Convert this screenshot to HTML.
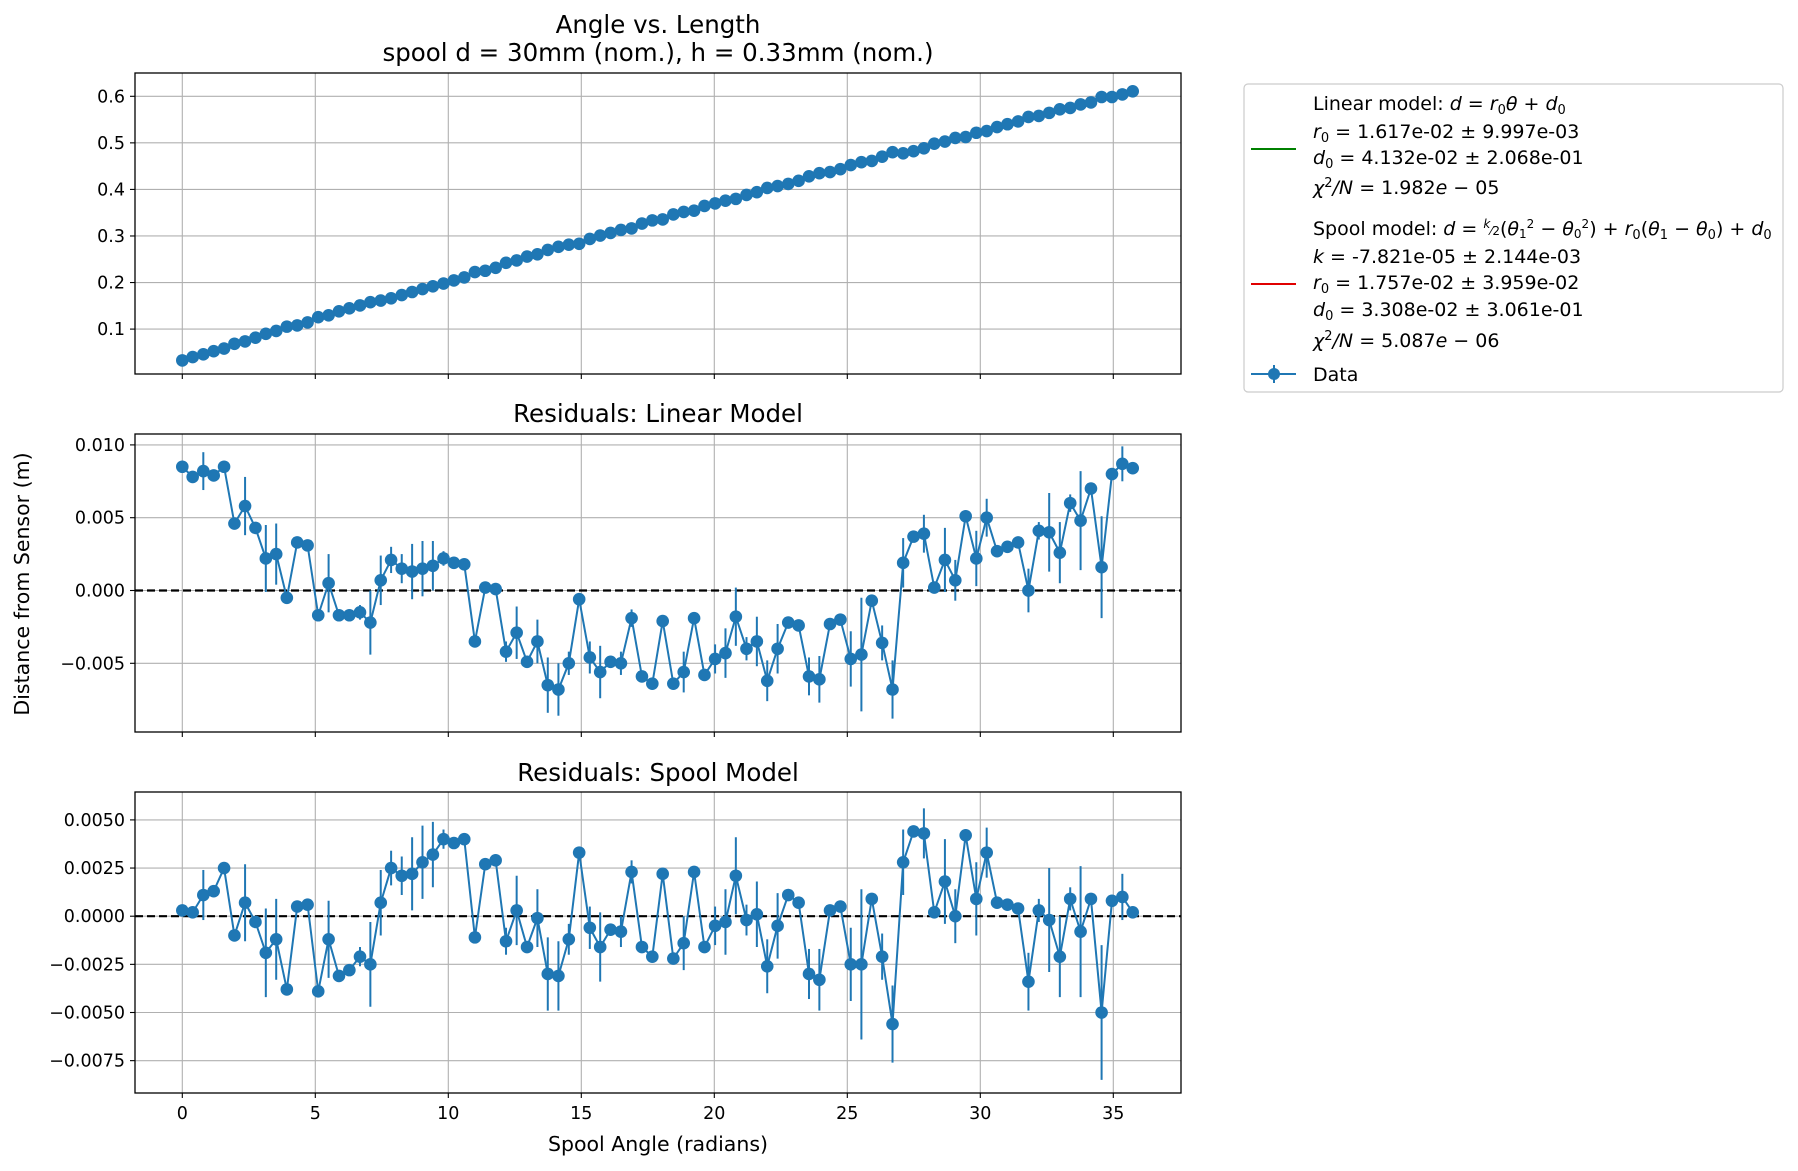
<!DOCTYPE html>
<html><head><meta charset="utf-8"><style>
html,body{margin:0;padding:0;background:#fff;}
svg{display:block;font-family:"DejaVu Sans","Liberation Sans",sans-serif;}
</style></head><body>
<svg id="fig" width="1798" height="1171" viewBox="0 0 1798 1171" xmlns="http://www.w3.org/2000/svg">
<rect width="1798" height="1171" fill="#fff"/>
<g id="g-top"></g>
<g id="g-r1"></g>
<g id="g-r2"></g>
<text x="658" y="33" font-size="24.5" text-anchor="middle">Angle vs. Length</text>
<text x="658" y="61" font-size="24.5" text-anchor="middle">spool d = 30mm (nom.), h = 0.33mm (nom.)</text>
<text x="658" y="422" font-size="24.5" text-anchor="middle">Residuals: Linear Model</text>
<text x="658" y="781" font-size="24.5" text-anchor="middle">Residuals: Spool Model</text>
<text x="658" y="1151" font-size="20.5" text-anchor="middle">Spool Angle (radians)</text>
<text x="0" y="0" font-size="20.5" text-anchor="middle" transform="translate(29,584) rotate(-90)">Distance from Sensor (m)</text>
<g font-size="19">
<rect x="1244" y="84" width="539" height="308" rx="4" fill="#fff" stroke="#ccc" stroke-width="1.2"/>
<line x1="1251" y1="149" x2="1296" y2="149" stroke="#008000" stroke-width="2"/>
<g>
<text x="1313" y="110">Linear model: <tspan font-style="italic">d</tspan> = <tspan font-style="italic">r</tspan><tspan font-size="13" dy="4">0</tspan><tspan dy="-4" font-style="italic">θ</tspan> + <tspan font-style="italic">d</tspan><tspan font-size="13" dy="4">0</tspan></text>
<text x="1313" y="138"><tspan font-style="italic">r</tspan><tspan font-size="13" dy="4">0</tspan><tspan dy="-4"> =  1.617e-02 ± 9.997e-03</tspan></text>
<text x="1313" y="164"><tspan font-style="italic">d</tspan><tspan font-size="13" dy="4">0</tspan><tspan dy="-4"> =  4.132e-02 ± 2.068e-01</tspan></text>
<text x="1313" y="194"><tspan font-style="italic">χ</tspan><tspan font-size="13" dy="-7">2</tspan><tspan dy="7" font-style="italic">/N</tspan> = 1.982<tspan font-style="italic">e</tspan> − 05</text>
</g>
<line x1="1251" y1="284" x2="1296" y2="284" stroke="#e00000" stroke-width="2"/>
<g>
<text x="1313" y="235">Spool model: <tspan font-style="italic">d</tspan> = <tspan font-size="12" dy="-7" font-style="italic">k</tspan><tspan font-size="12" dy="7">⁄2</tspan>(<tspan font-style="italic">θ</tspan><tspan font-size="12" dy="3">1</tspan><tspan font-size="12" dy="-10">2</tspan><tspan dy="7"> − </tspan><tspan font-style="italic">θ</tspan><tspan font-size="12" dy="3">0</tspan><tspan font-size="12" dy="-10">2</tspan><tspan dy="7">) + </tspan><tspan font-style="italic">r</tspan><tspan font-size="13" dy="4">0</tspan><tspan dy="-4">(</tspan><tspan font-style="italic">θ</tspan><tspan font-size="13" dy="4">1</tspan><tspan dy="-4"> − </tspan><tspan font-style="italic">θ</tspan><tspan font-size="13" dy="4">0</tspan><tspan dy="-4">) + </tspan><tspan font-style="italic">d</tspan><tspan font-size="13" dy="4">0</tspan></text>
<text x="1313" y="263"><tspan font-style="italic">k</tspan> =  -7.821e-05 ± 2.144e-03</text>
<text x="1313" y="289"><tspan font-style="italic">r</tspan><tspan font-size="13" dy="4">0</tspan><tspan dy="-4"> =  1.757e-02 ± 3.959e-02</tspan></text>
<text x="1313" y="316"><tspan font-style="italic">d</tspan><tspan font-size="13" dy="4">0</tspan><tspan dy="-4"> =  3.308e-02 ± 3.061e-01</tspan></text>
<text x="1313" y="347"><tspan font-style="italic">χ</tspan><tspan font-size="13" dy="-7">2</tspan><tspan dy="7" font-style="italic">/N</tspan> = 5.087<tspan font-style="italic">e</tspan> − 06</text>
</g>
<g>
<line x1="1251" y1="374" x2="1296" y2="374" stroke="#1f77b4" stroke-width="2"/>
<line x1="1274" y1="365" x2="1274" y2="383" stroke="#1f77b4" stroke-width="2"/>
<circle cx="1274" cy="374" r="6" fill="#1f77b4"/>
<text x="1313" y="381">Data</text>
</g>
</g>
</svg>
<script>
const angles=[0,0.39,0.79,1.18,1.57,1.96,2.36,2.75,3.14,3.53,3.93,4.32,4.71,5.11,5.50,5.89,6.28,6.68,7.07,7.46,7.85,8.25,8.64,9.03,9.42,9.82,10.21,10.60,11.00,11.39,11.78,12.17,12.57,12.96,13.35,13.74,14.14,14.53,14.92,15.32,15.71,16.10,16.49,16.89,17.28,17.67,18.06,18.46,18.85,19.24,19.63,20.03,20.42,20.81,21.21,21.60,21.99,22.38,22.78,23.17,23.56,23.95,24.35,24.74,25.13,25.53,25.92,26.31,26.70,27.10,27.49,27.88,28.27,28.67,29.06,29.45,29.85,30.24,30.63,31.02,31.42,31.81,32.20,32.59,32.99,33.38,33.77,34.16,34.56,34.95,35.34,35.73];
const distance=[.0328,.0399,.0458,.0525,.0582,.0685,.0736,.0815,.0899,.0960,.1053,.1079,.1144,.1256,.1297,.1383,.1446,.1508,.1578,.1613,.1662,.1732,.1797,.1859,.1920,.1979,.2045,.2110,.2226,.2253,.2317,.2424,.2474,.2558,.2607,.2701,.2767,.2813,.2832,.2936,.3009,.3066,.3130,.3163,.3266,.3335,.3355,.3462,.3517,.3544,.3646,.3699,.3758,.3797,.3882,.3941,.4031,.4073,.4118,.4184,.4282,.4348,.4373,.4434,.4524,.4585,.4611,.4704,.4799,.4776,.4821,.4883,.4983,.5028,.5105,.5125,.5217,.5253,.5339,.5400,.5460,.5557,.5579,.5644,.5721,.5751,.5826,.5868,.5985,.5985,.6041,.6108];
const residLinear=[.0085,.0078,.0082,.0079,.0085,.0046,.0058,.0043,.0022,.0025,-.0005,.0033,.0031,-.0017,.0005,-.0017,-.0017,-.0015,-.0022,.0007,.0021,.0015,.0013,.0015,.0017,.0022,.0019,.0018,-.0035,.0002,.0001,-.0042,-.0029,-.0049,-.0035,-.0065,-.0068,-.0050,-.0006,-.0046,-.0056,-.0049,-.0050,-.0019,-.0059,-.0064,-.0021,-.0064,-.0056,-.0019,-.0058,-.0047,-.0043,-.0018,-.0040,-.0035,-.0062,-.0040,-.0022,-.0024,-.0059,-.0061,-.0023,-.0020,-.0047,-.0044,-.0007,-.0036,-.0068,.0019,.0037,.0039,.0002,.0021,.0007,.0051,.0022,.0050,.0027,.0030,.0033,.0000,.0041,.0040,.0026,.0060,.0048,.0070,.0016,.0080,.0087,.0084];
const residSpool=[.0003,.0002,.0011,.0013,.0025,-.0010,.0007,-.0003,-.0019,-.0012,-.0038,.0005,.0006,-.0039,-.0012,-.0031,-.0028,-.0021,-.0025,.0007,.0025,.0021,.0022,.0028,.0032,.0040,.0038,.0040,-.0011,.0027,.0029,-.0013,.0003,-.0016,-.0001,-.0030,-.0031,-.0012,.0033,-.0006,-.0016,-.0007,-.0008,.0023,-.0016,-.0021,.0022,-.0022,-.0014,.0023,-.0016,-.0005,-.0003,.0021,-.0002,.0001,-.0026,-.0005,.0011,.0007,-.0030,-.0033,.0003,.0005,-.0025,-.0025,.0009,-.0021,-.0056,.0028,.0044,.0043,.0002,.0018,.0000,.0042,.0009,.0033,.0007,.0006,.0004,-.0034,.0003,-.0002,-.0021,.0009,-.0008,.0009,-.0050,.0008,.0010,.0002];
const errors=[.0003,.0003,.0013,.0003,.0003,.0003,.0020,.0003,.0023,.0021,.0003,.0003,.0003,.0003,.0020,.0003,.0003,.0005,.0022,.0017,.0009,.0010,.0019,.0019,.0017,.0005,.0003,.0003,.0003,.0003,.0003,.0007,.0018,.0003,.0015,.0019,.0018,.0008,.0003,.0011,.0018,.0003,.0008,.0006,.0003,.0003,.0003,.0003,.0014,.0003,.0003,.0010,.0017,.0020,.0008,.0017,.0014,.0017,.0003,.0003,.0013,.0016,.0003,.0003,.0019,.0039,.0003,.0012,.0020,.0017,.0003,.0013,.0003,.0022,.0014,.0003,.0019,.0013,.0003,.0003,.0003,.0015,.0006,.0027,.0021,.0006,.0034,.0003,.0035,.0003,.0012,.0003];
const xTicks=[0,5,10,15,20,25,30,35];
const topTicks=[0.1,0.2,0.3,0.4,0.5,0.6];
const topTickLabels=["0.1","0.2","0.3","0.4","0.5","0.6"];
const r1Ticks=[0.010,0.005,0,-0.005];
const r1TickLabels=["0.010","0.005","0.000","\u22120.005"];
const r2Ticks=[0.005,0.0025,0,-0.0025,-0.005,-0.0075];
const r2TickLabels=["0.0050","0.0025","0.0000","\u22120.0025","\u22120.0050","\u22120.0075"];

const NS="http://www.w3.org/2000/svg";
const L=135,R=1181;
const TF=17.5;
const xs=v=>182.3+v*26.6;
function mk(tag,attrs,parent){const e=document.createElementNS(NS,tag);for(const k in attrs)e.setAttribute(k,attrs[k]);parent.appendChild(e);return e;}
function panel(g,top,bot,ys,ticks,labels,yvals,errs,showX,zeroLine){
  xTicks.forEach(t=>{const l=mk('line',{x1:xs(t),x2:xs(t),y1:top,y2:bot,stroke:'#b0b0b0','stroke-width':1.1},g);
    
    
    const tk=mk('line',{x1:xs(t),x2:xs(t),y1:bot,y2:bot+5,stroke:'#000','stroke-width':1.1},g);
    
    
    if(showX){const tx=mk('text',{x:xs(t),y:bot+26,'font-size':TF,'text-anchor':'middle'},g);tx.textContent=t;
      
      }
  });
  ticks.forEach((t,i)=>{const y=ys(t);
    const l=mk('line',{x1:L,x2:R,y1:y,y2:y,stroke:'#b0b0b0','stroke-width':1.1},g);
    
    
    const tk=mk('line',{x1:L-5,x2:L,y1:y,y2:y,stroke:'#000','stroke-width':1.1},g);
    
    
    const tx=mk('text',{x:L-10,y:y+6,'font-size':TF,'text-anchor':'end'},g);tx.textContent=labels[i];
    
    
  });
  if(zeroLine){const z=mk('line',{x1:L,x2:R,y1:ys(0),y2:ys(0),stroke:'#000','stroke-width':2.2,'stroke-dasharray':'8,4'},g);
    
    }
  yvals.forEach((v,i)=>{const b=mk('line',{x1:xs(angles[i]),x2:xs(angles[i]),y1:ys(v-errs[i]),y2:ys(v+errs[i]),stroke:'#1f77b4','stroke-width':2},g);
    
    });
  const p=mk('polyline',{points:yvals.map((v,i)=>xs(angles[i])+','+ys(v)).join(' '),fill:'none',stroke:'#1f77b4','stroke-width':2},g);
  
  
  yvals.forEach((v,i)=>{const c=mk('circle',{cx:xs(angles[i]),cy:ys(v),r:6.3,fill:'#1f77b4'},g);
    
    });
  const f=mk('rect',{x:L,y:top,width:R-L,height:bot-top,fill:'none',stroke:'#000','stroke-width':1.3},g);
  
  
}
const yTop=v=>329.1-(v-0.1)*465.6;
const yR1=v=>590.5-v*14560;
const yR2=v=>916.2-v*19260;
panel(document.getElementById('g-top'),73,374,yTop,topTicks,topTickLabels,distance,errors.map(()=>0),false,false);
panel(document.getElementById('g-r1'),434,732,yR1,r1Ticks,r1TickLabels,residLinear,errors,false,true);
panel(document.getElementById('g-r2'),792,1093,yR2,r2Ticks,r2TickLabels,residSpool,errors,true,true);
</script>
</body></html>
